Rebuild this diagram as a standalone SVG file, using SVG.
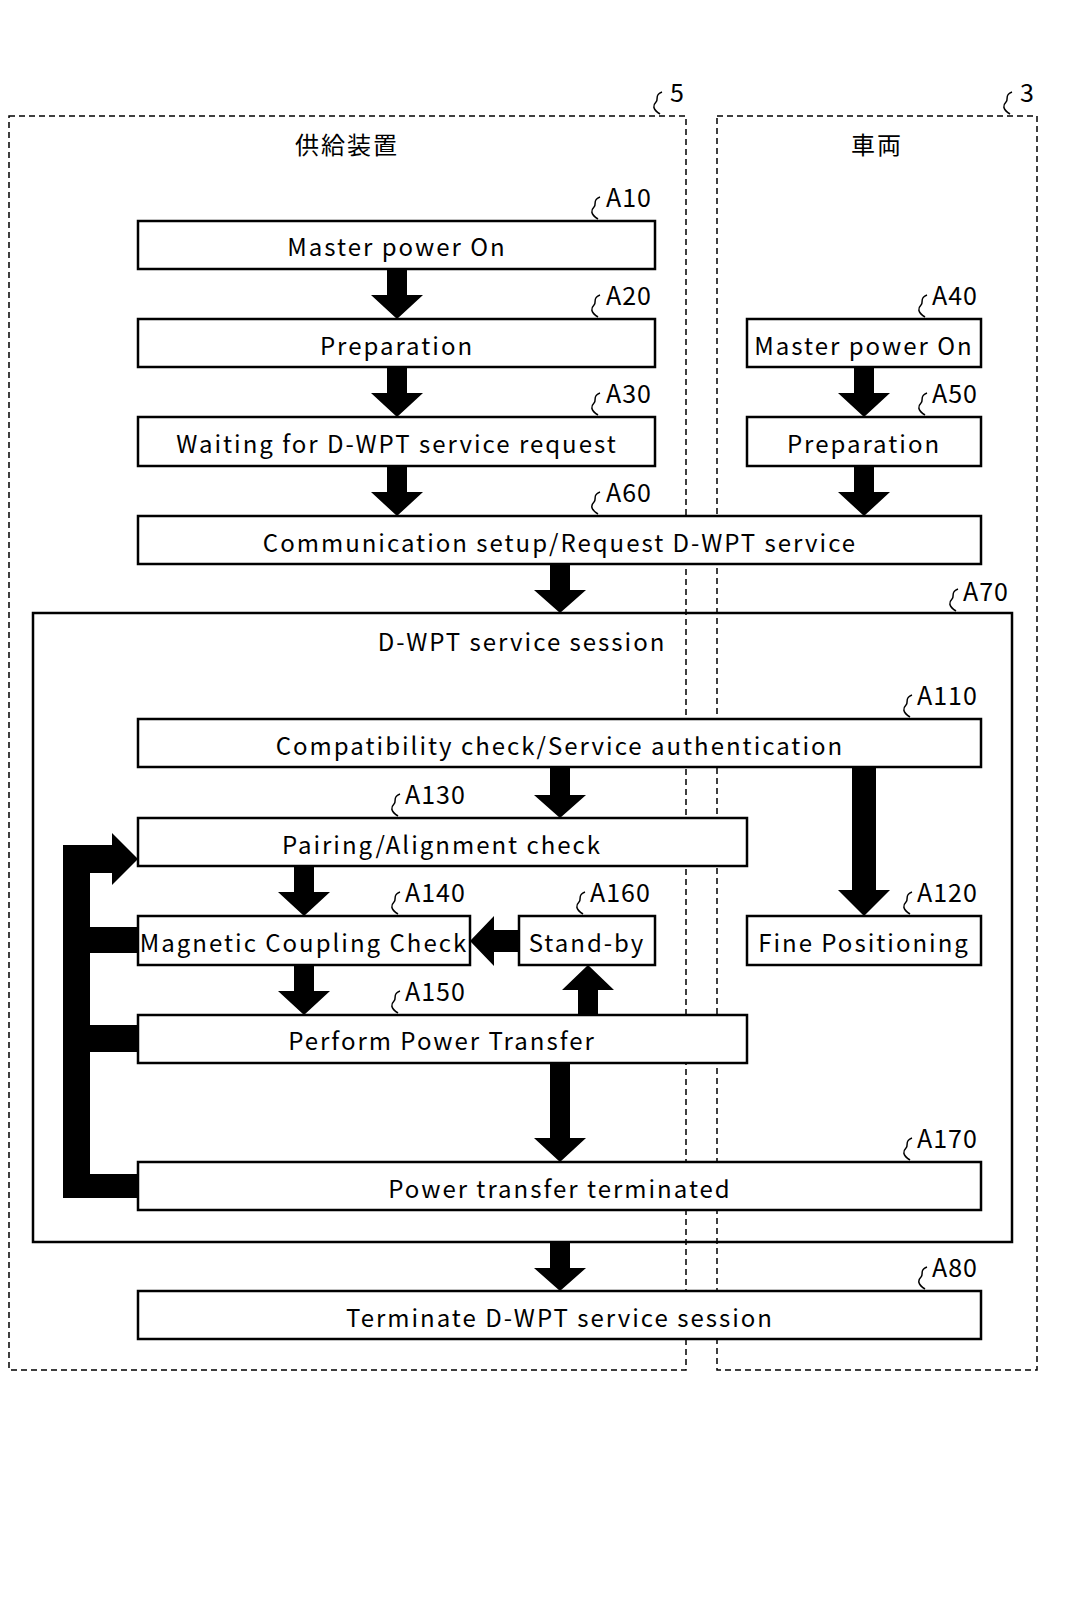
<svg xmlns="http://www.w3.org/2000/svg" width="1067" height="1600" viewBox="0 0 1067 1600">
<style>
.b{fill:#fff;stroke:#000;stroke-width:2.5}
.d{fill:none;stroke:#000;stroke-width:1.5;stroke-dasharray:6,4}
.t{font-family:"Noto Sans CJK JP","DejaVu Sans",sans-serif;font-size:24px;text-anchor:middle;fill:#000;letter-spacing:2px}
.l{font-family:"Noto Sans CJK JP","DejaVu Sans",sans-serif;font-size:25px;fill:#000;letter-spacing:1px}
.s{fill:none;stroke:#000;stroke-width:1.5}
</style>
<defs>
<path id="sq" class="s" d="M0,0 C-8,-5 -7,-9 -4,-12 C-1,-15 -6,-19 2,-22"/>
<path id="ad" d="M-10,0 H10 V26 H26 L0,50 L-26,26 H-10 Z"/>
</defs>
<rect fill="#fff" width="1067" height="1600"/>
<g id="sys5"><rect class="d" x="9" y="116" width="677" height="1254"/><text class="t" x="347" y="154">供給装置</text><use href="#sq" x="660" y="114"/><text class="l" x="670" y="102">5</text></g>
<g id="sys3"><rect class="d" x="717" y="116" width="320" height="1254"/><text class="t" x="877" y="154">車両</text><use href="#sq" x="1010" y="114"/><text class="l" x="1020" y="102">3</text></g>
<g id="A70"><rect fill="none" stroke="#000" stroke-width="2.5" x="33" y="613" width="979" height="629"/><text class="t" x="522" y="651">D-WPT service session</text><use href="#sq" x="956" y="611"/><text class="l" x="963" y="601">A70</text></g>
<g id="A10"><rect class="b" x="138" y="221" width="517" height="48"/><text class="t" x="397" y="256">Master power On</text><use href="#sq" x="598" y="219"/><text class="l" x="606" y="207">A10</text></g>
<g id="A20"><rect class="b" x="138" y="319" width="517" height="48"/><text class="t" x="397" y="355">Preparation</text><use href="#sq" x="598" y="317"/><text class="l" x="606" y="305">A20</text></g>
<g id="A30"><rect class="b" x="138" y="417" width="517" height="49"/><text class="t" x="397" y="453">Waiting for D-WPT service request</text><use href="#sq" x="598" y="415"/><text class="l" x="606" y="403">A30</text></g>
<g id="A40"><rect class="b" x="747" y="319" width="234" height="48"/><text class="t" x="864" y="355" letter-spacing="1">Master power On</text><use href="#sq" x="925" y="317"/><text class="l" x="932" y="305">A40</text></g>
<g id="A50"><rect class="b" x="747" y="417" width="234" height="49"/><text class="t" x="864" y="453">Preparation</text><use href="#sq" x="925" y="415"/><text class="l" x="932" y="403">A50</text></g>
<g id="A60"><rect class="b" x="138" y="516" width="843" height="48"/><text class="t" x="560" y="552">Communication setup/Request D-WPT service</text><use href="#sq" x="598" y="514"/><text class="l" x="606" y="502">A60</text></g>
<g id="A110"><rect class="b" x="138" y="719" width="843" height="48"/><text class="t" x="560" y="755">Compatibility check/Service authentication</text><use href="#sq" x="910" y="717"/><text class="l" x="917" y="705">A110</text></g>
<g id="A130"><rect class="b" x="138" y="818" width="609" height="48"/><text class="t" x="442" y="854">Pairing/Alignment check</text><use href="#sq" x="398" y="816"/><text class="l" x="405" y="804">A130</text></g>
<g id="A140"><rect class="b" x="138" y="916" width="332" height="49"/><text class="t" x="304" y="952" letter-spacing="1">Magnetic Coupling Check</text><use href="#sq" x="398" y="914"/><text class="l" x="405" y="902">A140</text></g>
<g id="A160"><rect class="b" x="519" y="916" width="136" height="49"/><text class="t" x="587" y="952" letter-spacing="1">Stand-by</text><use href="#sq" x="583" y="914"/><text class="l" x="590" y="902">A160</text></g>
<g id="A120"><rect class="b" x="747" y="916" width="234" height="49"/><text class="t" x="864" y="952" letter-spacing="1">Fine Positioning</text><use href="#sq" x="910" y="914"/><text class="l" x="917" y="902">A120</text></g>
<g id="A150"><rect class="b" x="138" y="1015" width="609" height="48"/><text class="t" x="442" y="1050">Perform Power Transfer</text><use href="#sq" x="398" y="1013"/><text class="l" x="405" y="1001">A150</text></g>
<g id="A170"><rect class="b" x="138" y="1162" width="843" height="48"/><text class="t" x="560" y="1198">Power transfer terminated</text><use href="#sq" x="910" y="1160"/><text class="l" x="917" y="1148">A170</text></g>
<g id="A80"><rect class="b" x="138" y="1291" width="843" height="48"/><text class="t" x="560" y="1327">Terminate D-WPT service session</text><use href="#sq" x="925" y="1289"/><text class="l" x="932" y="1277">A80</text></g>
<g id="connectors" fill="#000">
<use href="#ad" x="397" y="269"/>
<use href="#ad" x="397" y="367"/>
<use href="#ad" x="397" y="466"/>
<use href="#ad" x="864" y="367"/>
<use href="#ad" x="864" y="466"/>
<path d="M550,564 H570 V590 H586 L560,613 L534,590 H550 Z"/>
<path d="M550,767 H570 V795 H586 L560,818 L534,795 H550 Z"/>
<path d="M852,767 H876 V890 H890 L864,916 L838,890 H852 Z"/>
<use href="#ad" x="304" y="866"/>
<use href="#ad" x="304" y="965"/>
<path d="M578,1015 H598 V990 H614 L588,965 L562,990 H578 Z"/>
<path d="M519,930 V952 H494 V966 L470,941 L494,916 V930 Z"/>
<path d="M550,1063 H570 V1138 H586 L560,1162 L534,1138 H550 Z"/>
<path d="M550,1242 H570 V1268 H586 L560,1291 L534,1268 H550 Z"/>
<path d="M138,1174 V1198 H63 V845 H112 V833 L138,859 L112,885 V873 H90 V927 H138 V953 H90 V1025 H138 V1052 H90 V1174 Z"/>
</g>
</svg>
